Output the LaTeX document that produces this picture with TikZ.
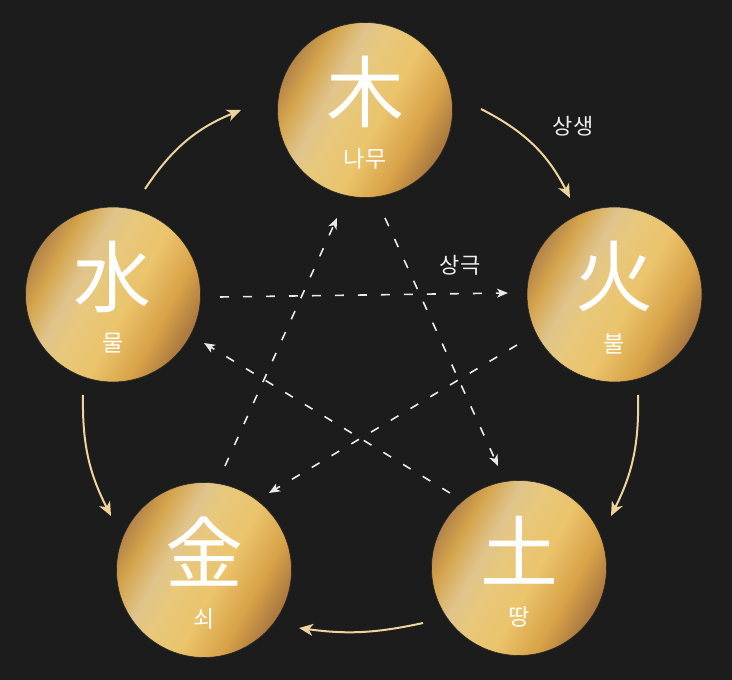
\documentclass[tikz,border=0pt]{standalone}
\usepackage{fontspec}
\newfontfamily\cjk{Noto Sans CJK KR}
\usetikzlibrary{arrows.meta}
\definecolor{bg}{HTML}{1C1C1C}
\definecolor{g0}{HTML}{B4844A}
\definecolor{g1}{HTML}{D4A44C}
\definecolor{g2}{HTML}{E0C48C}
\definecolor{g3}{HTML}{E8C87C}
\definecolor{g4}{HTML}{EBC46C}
\definecolor{g5}{HTML}{D8A248}
\definecolor{g6}{HTML}{A87640}
\definecolor{genc}{HTML}{EDD39E}
\definecolor{ctrlc}{HTML}{EAEAEA}
\definecolor{labelc}{HTML}{EEEEEE}
\pgfdeclarehorizontalshading{goldshade}{100bp}{color(0bp)=(g0); color(25bp)=(g0); color(31bp)=(g1); color(39bp)=(g2); color(45bp)=(g3); color(55bp)=(g4); color(66bp)=(g5); color(75bp)=(g6); color(100bp)=(g6)}
\begin{document}
\begin{tikzpicture}[x=1pt,y=1pt,
  element/.style={circle, minimum size=175pt, inner sep=0pt, shading=goldshade, shading angle=-29, draw=black!85, line width=0.6pt},
  hanja/.style={text=white, font=\cjk\fontsize{78}{78}\selectfont, inner sep=0pt},
  hangul/.style={text=white, font=\cjk\fontsize{23}{23}\selectfont, inner sep=0pt},
  relname/.style={text=labelc, font=\cjk\fontsize{22}{22}\selectfont, inner sep=0pt},
  gen/.style={draw=genc, line width=2pt, -{Stealth[length=14pt,width=12pt,inset=4pt]}},
  ctrl/.style={draw=ctrlc, line width=1.6pt, dash pattern=on 9pt off 14pt, -{Stealth[length=11pt,width=9pt,inset=3pt]}}
]
\useasboundingbox (0,0) rectangle (732,680);
\fill[bg] (0,0) rectangle (732,680);

% elements
\node[element] (mok) at (365,570) {};
\node[element] (hwa) at (614.5,385.5) {};
\node[element] (to) at (519,112) {};
\node[element] (geum) at (204,110) {};
\node[element] (su) at (113,385.5) {};

\foreach \n/\c in {mok/木, hwa/火, to/土, geum/金, su/水}{
  \node[hanja] (\n-h) at ([yshift=18pt]\n.center) {\c};
}
\foreach \n/\k in {mok/나무, hwa/불, to/땅, geum/쇠, su/물}{
  \node[hangul] (\n-k) at ([yshift=-49pt]\n.center) {\k};
}

% generating cycle (solid)
\coordinate (g1s) at (145,491); \coordinate (g1e) at (241,570);
\coordinate (g2s) at (481,571); \coordinate (g2e) at (570,482);
\coordinate (g3s) at (638,285); \coordinate (g3e) at (611,164);
\coordinate (g4s) at (423,57);  \coordinate (g4e) at (299,52);
\coordinate (g5s) at (83,285);  \coordinate (g5e) at (111,164);
\draw[gen] (g1s) to[bend left=17] (g1e);
\draw[gen] (g2s) to[bend left=18] (g2e);
\draw[gen] (g3s) to[bend left=14] (g3e);
\draw[gen] (g4s) to[bend left=10] (g4e);
\draw[gen] (g5s) to[bend right=14] (g5e);

% controlling cycle (dashed)
\coordinate (c1s) at (220,383); \coordinate (c1e) at (508,387);
\coordinate (c2s) at (385,462); \coordinate (c2e) at (498,214);
\coordinate (c3s) at (517,335); \coordinate (c3e) at (269,187);
\coordinate (c4s) at (450,187); \coordinate (c4e) at (204,337);
\coordinate (c5s) at (225,214); \coordinate (c5e) at (337,462);
\draw[ctrl] (c1s) -- (c1e);
\draw[ctrl] (c2s) -- (c2e);
\draw[ctrl] (c3s) -- (c3e);
\draw[ctrl] (c4s) -- (c4e);
\draw[ctrl] (c5s) -- (c5e);

\node[relname] (sangsaeng) at (573,554) {상생};
\node[relname] (sanggeuk) at (460,415) {상극};
\end{tikzpicture}
\end{document}
